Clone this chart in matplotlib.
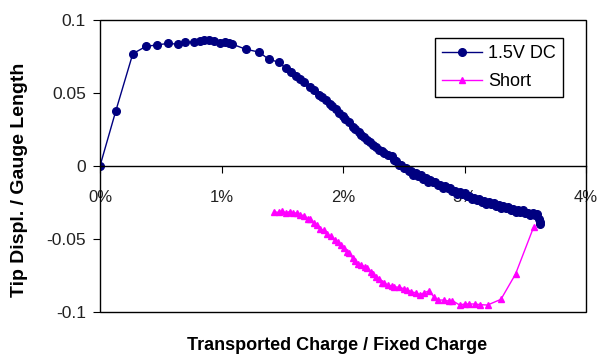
import matplotlib
matplotlib.use("Agg")
import matplotlib.pyplot as plt
from matplotlib.patches import Rectangle

plt.rcParams['font.family'] = ['Liberation Sans', 'DejaVu Sans']

# 1.5V DC series: x in % of fixed charge, y = tip displ. / gauge length
dc_x = [0.00, 0.13, 0.27, 0.38, 0.47, 0.56, 0.64, 0.70, 0.77, 0.82, 0.86, 0.90,
        0.94, 0.99, 1.03, 1.06, 1.09, 1.20, 1.31, 1.39, 1.47, 1.53, 1.57, 1.61,
        1.65, 1.68, 1.73, 1.76, 1.80, 1.83, 1.86, 1.89, 1.91, 1.94, 1.97, 2.00,
        2.02, 2.05, 2.08, 2.10, 2.13, 2.15, 2.17, 2.20, 2.22, 2.25, 2.27, 2.30,
        2.32, 2.34, 2.37,
        2.40, 2.42, 2.44, 2.46, 2.48, 2.50, 2.52, 2.54, 2.56, 2.58, 2.60, 2.62,
        2.64, 2.66, 2.68, 2.70, 2.72, 2.74, 2.76, 2.78, 2.80, 2.82, 2.84, 2.86,
        2.88, 2.90, 2.92, 2.94, 2.96, 2.98, 3.00, 3.02, 3.04, 3.06, 3.08, 3.10,
        3.12, 3.14, 3.16, 3.18, 3.20, 3.22, 3.24, 3.26, 3.28, 3.30, 3.32, 3.34,
        3.36, 3.38, 3.40, 3.42, 3.44, 3.46, 3.48, 3.50, 3.52, 3.54, 3.56, 3.58,
        3.60, 3.61, 3.62, 3.62]
dc_y = [0.0000, 0.0377, 0.0769, 0.0820, 0.0829, 0.0840, 0.0834, 0.0848, 0.0850,
        0.0857, 0.0860, 0.0860, 0.0857, 0.0845, 0.0850, 0.0843, 0.0834, 0.0800,
        0.0780, 0.0730, 0.0712, 0.0668, 0.0646, 0.0616, 0.0595, 0.0572, 0.0543,
        0.0520, 0.0488, 0.0470, 0.0450, 0.0428, 0.0410, 0.0388, 0.0362, 0.0340,
        0.0322, 0.0300, 0.0270, 0.0252, 0.0232, 0.0215, 0.0200, 0.0180, 0.0165,
        0.0144, 0.0128, 0.0112, 0.0100, 0.0091, 0.0075,
        0.0070, 0.0040, 0.0034, 0.0005, 0.0009, -0.0014, -0.0011, -0.0036,
        -0.0037, -0.0061, -0.0051, -0.0067, -0.0063, -0.0086, -0.0085, -0.0107,
        -0.0095, -0.0112, -0.0107, -0.0131, -0.0129, -0.0151, -0.0138, -0.0154,
        -0.0148, -0.0171, -0.0168, -0.0189, -0.0176, -0.0191, -0.0185, -0.0208,
        -0.0207, -0.0229, -0.0218, -0.0234, -0.0227, -0.0247, -0.0243, -0.0262,
        -0.0248, -0.0262, -0.0254, -0.0275, -0.0270, -0.0290, -0.0275, -0.0289,
        -0.0281, -0.0302, -0.0297, -0.0316, -0.0300, -0.0313, -0.0304, -0.0324,
        -0.0319, -0.0338, -0.0324, -0.0337, -0.0332, -0.0362, -0.0385, -0.0400]

# Short series
sh_x = [1.43, 1.47, 1.50, 1.53, 1.56, 1.59, 1.62, 1.65, 1.68, 1.71, 1.73, 1.76,
        1.79, 1.81, 1.84, 1.87, 1.90, 1.93, 1.96, 1.98, 2.01, 2.03, 2.05, 2.08,
        2.10, 2.12, 2.15, 2.18, 2.20, 2.23, 2.25, 2.27, 2.30, 2.32, 2.34, 2.37,
        2.40, 2.42, 2.46, 2.50, 2.53, 2.56, 2.60, 2.63, 2.67, 2.71, 2.75, 2.78,
        2.83, 2.87, 2.90, 2.96, 3.00, 3.04, 3.09, 3.13, 3.19, 3.30, 3.42, 3.57]
sh_y = [-0.0313, -0.0318, -0.0308, -0.0322, -0.0312, -0.0325, -0.0320, -0.0335,
        -0.0340, -0.0362, -0.0365, -0.0392, -0.0405, -0.0430, -0.0440, -0.0468,
        -0.0480, -0.0508, -0.0520, -0.0542, -0.0560, -0.0588, -0.0595, -0.0632,
        -0.0650, -0.0670, -0.0676, -0.0692, -0.0698, -0.0728, -0.0742, -0.0760,
        -0.0775, -0.0798, -0.0800, -0.0818, -0.0820, -0.0828, -0.0830, -0.0840,
        -0.0848, -0.0862, -0.0868, -0.0882, -0.0868, -0.0854, -0.0900, -0.0918,
        -0.0918, -0.0925, -0.0922, -0.0952, -0.0945, -0.0945, -0.0945, -0.0950,
        -0.0952, -0.0913, -0.0740, -0.0416]

x_ticks = [0, 1, 2, 3, 4]
x_labels = ['0%', '1%', '2%', '3%', '4%']
y_ticks = [-0.1, -0.05, 0, 0.05, 0.1]
y_labels = ['-0.1', '-0.05', '0', '0.05', '0.1']

fig = plt.figure(figsize=(5.97, 3.54), dpi=100)
ax = fig.add_axes([0.1675, 0.1186, 0.8141, 0.8249])

ax.plot(dc_x, dc_y, color='#000080', lw=1, marker='o', ms=5.5, label='1.5V DC')
ax.plot(sh_x, sh_y, color='#FF00FF', lw=1, marker='^', ms=4.5, label='Short')

ax.set_xlim(0, 4)
ax.set_ylim(-0.1, 0.1)

for s in ['top', 'right', 'left']:
    ax.spines[s].set_visible(False)
ax.spines['bottom'].set_position(('data', 0))
ax.spines['bottom'].set_linewidth(1)
ax.add_patch(Rectangle((0, 0), 1, 1, transform=ax.transAxes, fill=False,
                       lw=1, edgecolor='black', clip_on=False, zorder=3))

ax.set_xticks(x_ticks)
ax.set_xticklabels(x_labels)
ax.set_yticks(y_ticks)
ax.set_yticklabels(y_labels)
ax.tick_params(axis='x', direction='out', length=5, pad=12, labelsize=12,
               labelcolor='#222222')
ax.tick_params(axis='y', direction='out', length=5, pad=5, labelsize=12.5,
               labelcolor='#222222')

ax.set_xlabel('Transported Charge / Fixed Charge', fontsize=13, fontweight='bold')
ax.xaxis.set_label_coords(337 / 597, 1 - 345 / 354, transform=fig.transFigure)
ax.xaxis.label.set_va('center')
ax.set_ylabel('Tip Displ. / Gauge Length', fontsize=14, fontweight='bold')
ax.yaxis.set_label_coords(20 / 597, 1 - 180 / 354, transform=fig.transFigure)
ax.yaxis.label.set_va('center')

leg = ax.legend(loc='upper right', bbox_to_anchor=(563 / 597, 1 - 38 / 354),
                bbox_transform=fig.transFigure, fontsize=13, frameon=True,
                fancybox=False, edgecolor='black', framealpha=1,
                handlelength=2.2, handletextpad=0.35, labelspacing=0.6,
                borderpad=0.4, borderaxespad=0)
leg.get_frame().set_linewidth(1)

fig.savefig('out.png', dpi=100)
